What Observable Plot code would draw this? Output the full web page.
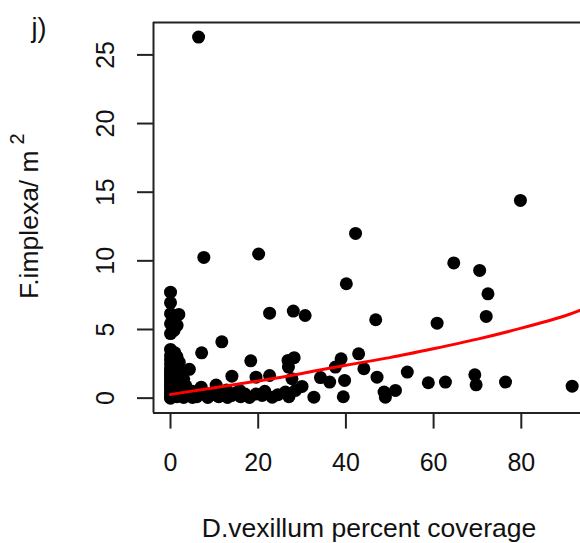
<!DOCTYPE html>
<html>
<head>
<meta charset="utf-8">
<script src="https://cdn.jsdelivr.net/npm/d3@7"></script>
<script src="https://cdn.jsdelivr.net/npm/@observablehq/plot@0.6"></script>
<style>
  html, body { margin: 0; padding: 0; background: #fff; overflow: hidden; }
  #chart svg { display: block; font-family: "Liberation Sans", Arial, sans-serif; }
</style>
</head>
<body>
<div id="chart"></div>
<script>
// ---- data ----
const panelLabel = "j)";
const xTitle = "D.vexillum percent coverage";
const yTitle = "F.implexa/ m";
const yTitleSup = "2";
const xTicks = [0, 20, 40, 60, 80];
const yTicks = [0, 5, 10, 15, 20, 25];

// observed points: percent coverage (x) and density (y)
const coverage = [
  6.4, 79.8, 42.2, 20.1, 7.6, 64.6, 70.5, 72.4, 40.1,
  0, 0, 0, 1.9, 0, 1.5, 22.6, 28.0, 30.7, 46.8, 60.8, 72.0, 0.8, 0,
  11.7, 7.1, 18.3, 4.3, 14.0, 26.8, 28.2, 26.9, 19.5, 22.6, 27.7, 10.4, 7.0,
  20.9, 23.2, 26.2, 28.5, 30.0, 32.7, 34.2, 36.3, 37.6, 38.9, 42.9, 44.1, 39.7, 39.4,
  47.1, 48.7, 49.0, 51.3, 54.0, 58.8, 62.7, 69.4, 69.7, 76.4, 91.6,
  // dense cluster near zero coverage
  0, 0, 0, 0, 0, 0, 0, 0, 0, 0, 0, 0, 0, 0, 0, 0, 0,
  0.8, 0.8, 0.8, 0.8, 0.8,
  1.5, 1.5, 1.5, 1.5, 1.5,
  2.3, 2.3, 2.3, 3.0, 3.0, 3.0, 4.2, 5.0, 5.0,
  6.0, 7.5, 8.5, 9.5, 11.0, 12.0, 13.0, 14.0, 15.0, 16.0, 17.0, 18.0,
  19.5, 21.5, 24.5, 27.0, 12.8, 15.8,
  1.2, 2.0, 2.6, 3.5, 1.0, 0.4
];
const density = [
  26.3, 14.4, 12.0, 10.5, 10.25, 9.85, 9.3, 7.6, 8.33,
  7.72, 6.95, 6.15, 6.1, 5.42, 5.3, 6.19, 6.34, 6.02, 5.71, 5.46, 5.95, 4.93, 4.7,
  4.1, 3.3, 2.72, 2.1, 1.6, 2.75, 2.95, 2.26, 1.53, 1.65, 1.41, 0.95, 0.8,
  0.2, 0.07, 0.44, 0.56, 0.85, 0.07, 1.5, 1.17, 2.26, 2.87, 3.23, 2.14, 1.29, 0.1,
  1.53, 0.44, 0.07, 0.56, 1.9, 1.12, 1.17, 1.7, 0.97, 1.17, 0.87,
  0, 0.1, 0.25, 0.4, 0.6, 0.8, 1.0, 1.2, 1.4, 1.6, 1.8, 2.0, 2.2, 2.5, 2.8, 3.1, 3.55,
  0.2, 0.7, 1.3, 1.9, 2.6,
  0.1, 0.9, 1.6, 2.3, 3.0,
  0.3, 1.1, 1.8, 0.05, 0.6, 1.4, 0.2, 0.05, 0.5,
  0.1, 0.3, 0.05, 0.25, 0.1, 0.35, 0.05, 0.2, 0.4, 0.1, 0.3, 0.05,
  0.3, 0.5, 0.25, 0.1, 0.6, 0.55,
  0.45, 2.6, 0.7, 0.9, 3.3, 3.0
];

// fitted curve (red)
const fitX = [0, 10, 20, 30, 40, 50, 60, 70, 80, 90, 95];
const fitY = [0.27, 0.75, 1.25, 1.8, 2.4, 2.95, 3.6, 4.3, 5.1, 6.0, 6.6];

// ---- build tables ----
const points = coverage.map((x, i) => ({x, y: density[i]}));
const fit = fitX.map((x, i) => ({x, y: fitY[i]}));

const xDomain = [-3.88, 93.5];
const yDomain = [-1.09, 27.36];
const ink = "#222";

const chart = Plot.plot({
  width: 580,
  height: 543,
  marginLeft: 153,
  marginRight: 0,
  marginTop: 22,
  marginBottom: 130.4,
  style: {fontFamily: "Liberation Sans, Arial, sans-serif", background: "#fff"},
  x: {domain: xDomain},
  y: {domain: yDomain},
  marks: [
    // axes (R-style)
    Plot.axisX({ticks: xTicks, tickSize: 16, tickPadding: 24, fontSize: 25, label: null, stroke: ink, color: "#111", strokeWidth: 2}),
    Plot.axisY({ticks: yTicks, tickSize: 16, tickFormat: () => "", label: null, stroke: ink, strokeWidth: 2}),
    Plot.text(yTicks, {y: d => d, text: d => String(d), frameAnchor: "left", dx: -48, rotate: -90,
      textAnchor: "middle", lineAnchor: "middle", fontSize: 25, fill: "#111"}),
    // box (left, top, bottom)
    Plot.ruleX([xDomain[0]], {stroke: ink, strokeWidth: 2}),
    Plot.ruleY([yDomain[0], yDomain[1]], {stroke: ink, strokeWidth: 2}),
    // data
    Plot.dot(points, {x: "x", y: "y", r: 6.5, fill: "black", stroke: "none"}),
    Plot.line(fit, {x: "x", y: "y", stroke: "red", strokeWidth: 3, curve: "natural", clip: true}),
    // titles
    Plot.text([xTitle], {frameAnchor: "bottom", dy: 115.5, dx: 2, text: d => d, fontSize: 26.5,
      textAnchor: "middle", lineAnchor: "middle", fill: "#111"}),
    Plot.text([yTitle], {frameAnchor: "left", dx: -124.3, dy: 6.9, rotate: -90, text: d => d, fontSize: 26.5,
      textAnchor: "middle", lineAnchor: "middle", fill: "#111"}),
    Plot.text([yTitleSup], {frameAnchor: "left", dx: -135.5, dy: -78.8, rotate: -90, text: d => d, fontSize: 20,
      textAnchor: "middle", lineAnchor: "middle", fill: "#111"}),
    Plot.text([panelLabel], {frameAnchor: "top-left", dx: -122, dy: 6, text: d => d, fontSize: 27,
      textAnchor: "start", lineAnchor: "middle", fill: "#111"})
  ]
});
document.getElementById("chart").appendChild(chart);
</script>
</body>
</html>
